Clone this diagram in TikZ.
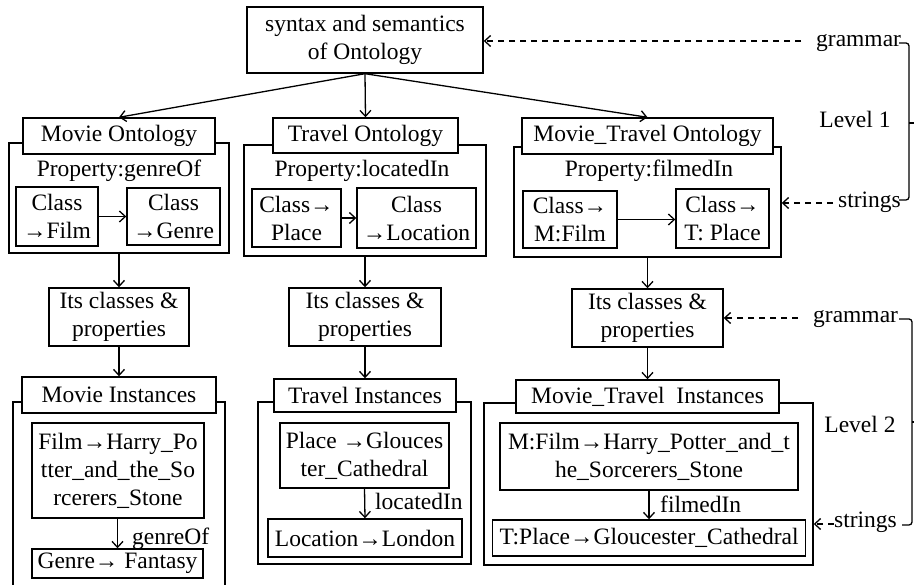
\documentclass[tikz,border=0pt]{standalone}
\usepackage{fontspec}
\setmainfont{Liberation Serif}
\usetikzlibrary{arrows.meta}
\begin{document}
\begin{tikzpicture}[x=1pt,y=-1pt,
  every node/.style={font=\fontsize{23.5}{28}\selectfont, inner sep=0pt},
  box/.style={draw, line width=1.4pt, fill=white, align=center},
  frame/.style={draw, line width=1.4pt},
  link/.style={line width=1.3pt, -{Straight Barb[length=6pt,width=11pt]}},
  hint/.style={link, dash pattern=on 6pt off 5pt},
  bracket/.style={line width=1.3pt, rounded corners=3pt},
  tag/.style={anchor=base west},
  caption/.style={anchor=base}]

\clip (0,0) rectangle (914,585);

% ---------- root ----------
\node[box, minimum width=236pt, minimum height=66pt] (top) at (365,40)
  {syntax and semantics\\of Ontology};

% ---------- level 1: ontologies ----------
\node[frame, minimum width=220pt, minimum height=110pt] (movCont) at (119,198) {};
\node[box, minimum width=192pt, minimum height=36pt] (movOnt) at (119,136) {Movie Ontology};
\node[caption] (movProp) at (119,177) {Property:genreOf};
\node[box, minimum width=82pt, minimum height=59pt] (cFilm) at (57,216.5) {Class\\→Film};
\node[box, minimum width=93pt, minimum height=57pt] (cGenre) at (173.5,216.5) {Class\\→Genre};

\node[frame, minimum width=242pt, minimum height=111pt] (traCont) at (365,200.5) {};
\node[box, minimum width=185pt, minimum height=35pt] (traOnt) at (365.5,135.5) {Travel Ontology};
\node[caption] (traProp) at (362,177) {Property:locatedIn};
\node[box, minimum width=89pt, minimum height=58pt] (cPlace) at (296.5,218) {Class→\\Place};
\node[box, minimum width=119pt, minimum height=60pt] (cLoc) at (416.5,218) {Class\\→Location};

\node[frame, minimum width=267pt, minimum height=110pt] (mtCont) at (647.5,202) {};
\node[box, minimum width=251pt, minimum height=36pt] (mtOnt) at (647.5,136) {Movie\_Travel Ontology};
\node[caption] (mtProp) at (649,177) {Property:filmedIn};
\node[box, minimum width=94pt, minimum height=57pt] (cMFilm) at (570,219.5) {Class→\\M:Film};
\node[box, minimum width=93pt, minimum height=59pt] (cTPlace) at (722.5,218.5) {Class→\\T: Place};

% ---------- classes & properties ----------
\node[box, minimum width=140pt, minimum height=58pt] (movCls) at (119,317) {Its classes \&\\properties};
\node[box, minimum width=152pt, minimum height=58pt] (traCls) at (365,317) {Its classes \&\\properties};
\node[box, minimum width=151pt, minimum height=58pt] (mtCls) at (647.5,318) {Its classes \&\\properties};

% ---------- level 2: instances ----------
\node[frame, minimum width=212pt, minimum height=220pt] (movInstCont) at (119,512) {};
\node[box, minimum width=194pt, minimum height=36pt] (movInst) at (119,395) {Movie Instances};
\node[box, minimum width=172pt, minimum height=95pt] (movHarry) at (118,470.5)
  {Film→Harry\_Po\\tter\_and\_the\_So\\rcerers\_Stone};
\node[box, minimum width=171pt, minimum height=29pt] (movFantasy) at (117.5,563.5) {Genre→ Fantasy};

\node[frame, minimum width=213pt, minimum height=162pt] (traInstCont) at (364.5,483) {};
\node[box, minimum width=182pt, minimum height=33pt] (traInst) at (365,395.5) {Travel Instances};
\node[box, minimum width=169pt, minimum height=65pt] (traGlou) at (364.5,455.5)
  {Place →Glouces\\ter\_Cathedral};
\node[box, minimum width=194pt, minimum height=38pt] (traLondon) at (365,538) {Location→London};

\node[frame, minimum width=329pt, minimum height=162pt] (mtInstCont) at (648.5,484) {};
\node[box, minimum width=263pt, minimum height=33pt] (mtInst) at (647.5,396.5) {Movie\_Travel\ \ Instances};
\node[box, minimum width=298pt, minimum height=67pt] (mtHarry) at (649,456.5)
  {M:Film→Harry\_Potter\_and\_t\\he\_Sorcerers\_Stone};
\node[box, minimum width=313pt, minimum height=36pt] (mtGlou) at (649,538) {T:Place→Gloucester\_Cathedral};

% ---------- solid connectors ----------
\draw[link] (top.south) -- (movOnt.north);
\draw[link] (top.south) -- (traOnt.north);
\draw[link] (top.south) -- (mtOnt.north);

\draw[link] (cFilm.east) -- (cGenre.west |- cFilm.east);
\draw[link] (cPlace.east) -- (cLoc.west |- cPlace.east);
\draw[link] (cMFilm.east) -- (cTPlace.west |- cMFilm.east);

\draw[link] (movCont.south) -- (movCls.north);
\draw[link] (traCont.south) -- (traCls.north);
\draw[link] (mtCont.south) -- (mtCls.north);

\draw[link] (movCls.south) -- (movInst.north);
\draw[link] (traCls.south) -- (traInst.north);
\draw[link] (mtCls.south) -- (mtInst.north);

\draw[link] (movHarry.south -| movFantasy.north) -- (movFantasy.north);
\node[tag] (lGenreOf) at (132,544) {genreOf};
\draw[link] (traGlou.south) -- (traLondon.north);
\node[tag] (lLocatedIn) at (375,509) {locatedIn};
\draw[link] (mtHarry.south) -- (mtGlou.north);
\node[tag] (lFilmedIn) at (660,512) {filmedIn};

% ---------- level annotations ----------
\node[tag] (gram1) at (816,47) {grammar};
\node[tag] (str1) at (838,208) {strings};
\node[caption] (lev1) at (855,128) {Level 1};
\coordinate (g1tail) at (801,41);
\coordinate (s1tail) at (833,203);
\draw[hint] (g1tail) -- (g1tail -| top.east);
\draw[hint] (s1tail) -- (s1tail -| mtCont.east);
\draw[bracket] (899,43) -- (909,43) -- (909,200) -- (899,200);
\draw[line width=1.3pt] (909,123) -- (915,123);

\node[tag] (gram2) at (813,323) {grammar};
\node[tag] (str2) at (834,528) {strings};
\node[caption] (lev2) at (860,433) {Level 2};
\coordinate (g2tail) at (798,318);
\coordinate (s2tail) at (834,524);
\draw[hint] (g2tail) -- (g2tail -| mtCls.east);
\draw[hint] (s2tail) -- (s2tail -| mtInstCont.east);
\draw[bracket] (899,319) -- (912,319) -- (912,525) -- (902,525);
\draw[line width=1.3pt] (912,422) -- (915,422);

\end{tikzpicture}
\end{document}
